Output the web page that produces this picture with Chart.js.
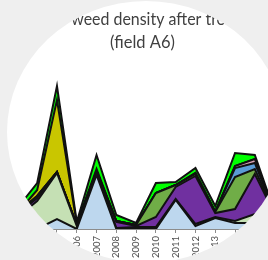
<!DOCTYPE html>
<html>
<head>
<meta charset="utf-8">
<script src="https://cdn.jsdelivr.net/npm/chart.js@4.4.1/dist/chart.umd.min.js"></script>
<style>
  html, body { margin: 0; padding: 0; width: 268px; height: 260px; overflow: hidden; background: #efefef; }
  #c { position: absolute; left: 0; top: 0; background: #ffffff; clip-path: ellipse(139px 131px at 146px 132px); }
</style>
</head>
<body>
<canvas id="c" width="280" height="260"></canvas>
<script>
const years = ['2003','2004','2005','2006','2007','2008','2009','2010','2011','2012','2013','2014','2015','2016'];
const titleLines = ['Average weed density after treatment', '(field A6)'];

const lightBlue   = [0, 0, 10, 0, 54, 0, 0, 0, 29, 3, 11, 6, 6, 3];
const lightGreen  = [12, 28, 46, 3, 2, 1, 2, 2, 1, 2, 1, 2, 9, 6];
const purple      = [3, 3, 1, 1, 1, 6, 1, 10, 12, 48, 4, 12, 40, 6];
const darkGreen   = [1, 2, 0, 0, 1, 1, 1, 24, 2, 2, 1, 32, 5, 1];
const blue        = [0, 0, 0, 0, 0, 0, 0, 0, 0, 0, 0, 9, 6, 0];
const pink        = [0, 0, 0, 0, 0, 0, 0, 0, 0, 1, 0, 2, 4, 0];
const yellow      = [0, 6, 72, 1, 2, 0, 0, 0, 0, 0, 0, 0, 0, 0];
const brightGreen = [5, 7, 14, 2, 14, 6, 2, 10, 3, 5, 6, 13, 4, 1];

const seriesNames = ['Series 1','Series 2','Series 3','Series 4','Series 5','Series 6','Series 7','Series 8'];
const seriesData = [lightBlue, lightGreen, purple, darkGreen, blue, pink, yellow, brightGreen];
const seriesColors = ['#bdd7ee', '#c5e0b4', '#7030a0', '#70ad47', '#5b9bd5', '#d7a1b4', '#c9c600', '#00ff00'];

const datasets = seriesData.map((d, i) => ({
  label: seriesNames[i],
  data: d,
  backgroundColor: seriesColors[i],
  borderColor: '#111111',
  borderWidth: 2,
  borderJoinStyle: 'miter',
  fill: i === 0 ? 'origin' : '-1',
  pointRadius: 0,
  tension: 0
}));

new Chart(document.getElementById('c'), {
  type: 'line',
  data: { labels: years, datasets: datasets },
  options: {
    responsive: false,
    animation: false,
    devicePixelRatio: 1,
    layout: { padding: { left: 10.4, right: 5.4, top: 0, bottom: 0 } },
    plugins: {
      legend: { display: false },
      tooltip: { enabled: false },
      title: {
        display: true,
        text: titleLines,
        color: '#404040',
        font: { family: 'Lato', size: 16.5, weight: 'normal', lineHeight: 1.394 },
        padding: { top: 8.5, bottom: 14.5 }
      }
    },
    scales: {
      x: {
        offset: false,
        grid: { display: true, drawOnChartArea: false, drawTicks: true, tickLength: 4, color: '#8c8c8c' },
        border: { display: true, color: '#8c8c8c', width: 1 },
        ticks: { autoSkip: false, minRotation: 90, maxRotation: 90, padding: 3, color: '#505050', font: { family: 'Lato', size: 9.5 } },
        afterFit: (s) => { s.height = 31; s.paddingLeft = 0; s.paddingRight = 0; }
      },
      y: {
        stacked: true,
        min: 0,
        max: 160,
        grid: { display: false },
        border: { display: false },
        ticks: { display: false },
        afterFit: (s) => { s.width = 7; }
      }
    }
  }
});
</script>
</body>
</html>
